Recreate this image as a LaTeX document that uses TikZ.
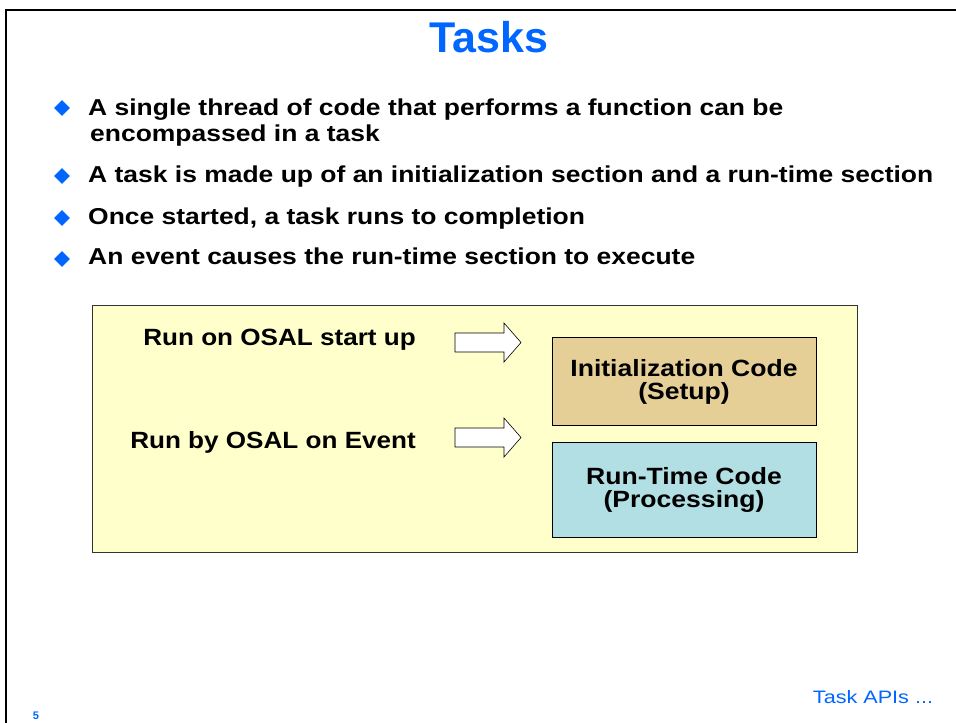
\documentclass[tikz,border=0pt]{standalone}
\usepackage{fontspec}
\setmainfont{Liberation Sans}
\usetikzlibrary{positioning,shapes.geometric}
\definecolor{tiblue}{RGB}{0,102,255}
\definecolor{paleyellow}{RGB}{255,255,204}
\definecolor{tan}{RGB}{230,207,150}
\definecolor{paleblue}{RGB}{178,223,228}
\tikzset{
  bulletmark/.style={diamond,fill=tiblue,inner sep=0pt,minimum size=16pt},
  bullettext/.style={anchor=base west,inner sep=0pt,xscale=1.15,
    font=\fontsize{23}{26}\selectfont\bfseries,align=left},
  codebox/.style={draw,semithick,minimum width=264pt,minimum height=88pt,align=center,
    font=\fontsize{23.5}{24}\selectfont\bfseries},
  runlabel/.style={anchor=base east,inner sep=0pt,xscale=1.11,
    font=\fontsize{23.5}{24}\selectfont\bfseries},
  hollowarrow/.pic={\draw[semithick,fill=white] (0,-9.5) -- (49,-9.5) -- (49,-19.5)
    -- (66,0) -- (49,19.5) -- (49,9.5) -- (0,9.5) -- cycle;}
}
\begin{document}
\begin{tikzpicture}[x=1pt,y=-1pt]
	\useasboundingbox (0,0) rectangle (956,723);
	\draw[line width=2.5pt] (6,723) |- (956,10);
	\node[text=tiblue,font=\fontsize{43}{46}\selectfont\bfseries] (title) at (489,37) {Tasks};
	% bullets
	\foreach \y/\d/\txt [count=\i] in {115/108/{A single thread of code that performs a function can be},
	  182/176/{A task is made up of an initialization section and a run-time section},
	  224/218/{Once started, a task runs to completion},
	  264/259/{An event causes the run-time section to execute}} {
		\node[bulletmark] (b\i) at (62,\d) {};
		\node[bullettext] (t\i) at (88,\y) {\txt};
	}
	\node[bullettext] (t1b) at (90,141) {encompassed in a task};
	% diagram
	\node[draw=black!80,fill=paleyellow,minimum width=765pt,minimum height=247pt,inner sep=0pt] (frame) at (474.5,428.5) {};
	\node[codebox,fill=tan] (init) at (684,381.5) {\scalebox{1.13}[1]{Initialization Code}\\[-1pt]\scalebox{1.13}[1]{(Setup)}};
	\node[codebox,fill=paleblue,minimum height=95pt] (run) at (684,489.5) {\scalebox{1.13}[1]{Run-Time Code}\\[-1pt]\scalebox{1.13}[1]{(Processing)}};
	\pic (a1) at (455,342.5) {hollowarrow};
	\pic (a2) at (455,437.5) {hollowarrow};
	\node[runlabel] (l1) at (416,345) {Run on OSAL start up};
	\node[runlabel] (l2) at (416,448) {Run by OSAL on Event};
	% footer
	\node[text=tiblue,font=\fontsize{11}{12}\selectfont\bfseries] (num) at (36,716) {5};
	\node[text=tiblue,font=\fontsize{18}{22}\selectfont,xscale=1.2] (next) at (873,697) {Task APIs ...};
\end{tikzpicture}
\end{document}
